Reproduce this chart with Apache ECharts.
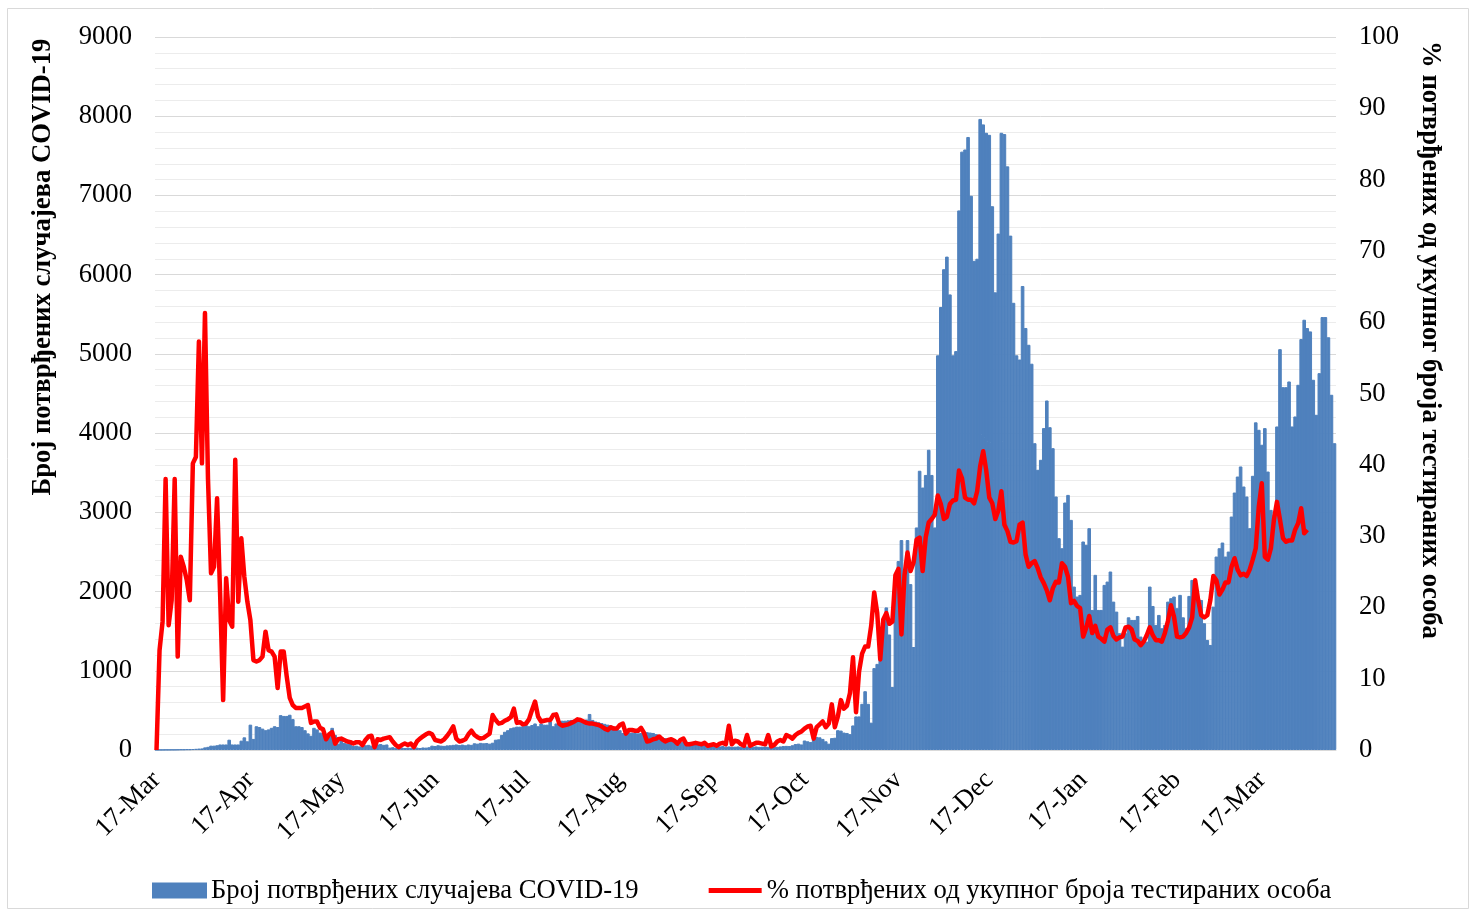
<!DOCTYPE html>
<html>
<head>
<meta charset="utf-8">
<script src="https://cdn.jsdelivr.net/npm/echarts@6/dist/echarts.min.js"></script>
<style>
  html, body { margin: 0; padding: 0; background: #fff; }
  #chart { width: 1476px; height: 917px; }
</style>
</head>
<body>
<div id="chart"></div>
<script>
// први дан серије, сваки следећи стубић је један дан
const startDate = '2020-03-17';

// дневни број потврђених случајева (процењено са слике)
const cases = [
  2, 3, 3, 4, 4, 5, 5, 6, 8, 8,
  10, 10, 12, 15, 18, 20, 33,
  40, 55, 55, 60, 70, 70, 70, 130, 70, 70, 70, 118, 160, 110,
  320, 140, 300, 290, 270, 250, 260, 280, 300, 290,
  440, 430, 430, 445, 390, 300, 300, 290, 250, 210,
  180, 280, 260, 220, 200, 170, 200, 280, 190, 80,
  120, 90, 80, 100, 50, 55, 45, 50, 60, 65,
  55, 60, 70, 75, 65, 70, 30, 35, 28, 30,
  32, 25, 30, 28, 35, 30, 25, 32, 30, 35,
  55, 50, 60, 55, 52, 58, 60, 65, 70, 62,
  68, 60, 70, 65, 85, 80, 90, 85, 88, 80, 92,
  130, 135, 190, 230, 250, 275, 285, 295, 295, 300, 315, 300, 315,
  335, 300, 335, 320, 320, 360, 300, 335, 365, 370, 370, 375, 380, 385, 380, 375, 380, 385,
  455, 380, 360, 350, 340, 330, 320, 310, 295, 280, 250, 215,
  230, 220, 220, 215, 210, 215, 220, 225, 220, 215, 200, 180, 160, 150, 150,
  140, 130, 110, 100, 100, 95, 85, 80, 78, 76, 70, 60,
  50, 52, 48, 50, 45, 50, 42, 45, 40, 42, 45, 40, 42, 44, 40, 42, 45, 40,
  42, 44, 40, 45, 42, 40, 45, 50, 52, 50, 60, 75, 80,
  70, 120, 110, 100, 160, 165, 160, 140, 110, 80, 150, 155, 250, 245, 220, 215,
  200, 310, 424, 424, 583, 742, 583, 345, 1034, 1087, 1484, 1560, 1800, 1458, 795,
  2147, 2385, 2650, 2094, 2650, 2094, 1300, 2809, 3525, 3313, 3472, 3790, 3472, 2809,
  4982, 5592, 6069, 6228, 5751, 4982, 5035, 6811, 7553, 7580, 7738, 6996, 6175, 6201,
  7966, 7897, 7791, 7765, 6864, 5777, 6519, 7791, 7775, 7367, 6493, 5645, 4982, 4929, 5857, 5327, 5115,
  4876, 3873, 3537, 3663, 4063, 4412, 4075, 3810, 3200, 2674, 2547, 3124, 3220, 2905,
  2063, 1937, 1958, 2632, 2590, 2800, 1768, 2211, 1768, 1768, 2084, 2126, 2253, 1873,
  1747, 1474, 1305, 1474, 1675, 1642, 1642, 1692, 1432, 1347, 1368, 2063, 1818, 1579,
  1705, 1537, 1579, 1873, 1916, 1937, 1790, 1958, 1675, 1537, 1945, 2147, 1979, 1910,
  1894, 1600, 1389, 1326, 1810, 2442, 2547, 2619, 2442, 2505, 2947, 3250, 3452, 3579,
  3326, 3200, 2800, 3461, 4136, 4042, 3853, 4063, 3515, 3031, 2968, 4084, 5060, 4580,
  4580, 4652, 4084, 4210, 4610, 5187, 5431, 5326, 5284, 4673, 4231, 4757, 5465, 5465, 5210, 4484, 3873
];

// % позитивних од тестираних, по дану (линија се завршава раније)
const positivity = [
  0, 14, 18, 38, 17.5, 21, 38, 13.1, 27.1, 25.7, 23.8,
  21, 40.2, 41.1, 57.3, 40.2, 61.3, 38, 24.8, 25.7, 35.3, 22, 7, 24.1, 18.2, 17.3, 40.7, 20.8, 29.7, 24.3, 20.8,
  18.2, 12.6, 12.4, 12.6, 13.1, 16.6, 14.0, 13.8, 13.1, 8.7, 13.8, 13.8, 10.3, 7.3, 6.3,
  5.9, 5.9, 5.9, 6.1, 6.3, 3.8, 4.0, 4.0, 3.1, 2.9, 1.5, 2.2, 2.5, 0.9, 1.5,
  1.6, 1.4, 1.2, 1.1, 0.9, 1.1, 1.1, 0.7, 1.4, 1.9, 2.0, 0.4, 1.5, 1.4, 1.6,
  1.7, 1.8, 1.2, 0.7, 0.4, 0.7, 0.9, 0.7, 0.9, 0.4, 1.2, 1.6, 1.9, 2.2, 2.4,
  2.2, 1.4, 1.3, 1.2, 1.5, 2.0, 2.6, 3.3, 1.6, 1.2, 1.3, 1.5, 2.2, 2.7, 2.1,
  1.8, 1.6, 1.7, 2.0, 2.3, 4.9, 4.2, 3.7, 3.8, 4.1, 4.3, 4.6, 5.8, 3.8, 3.9,
  3.6, 3.7, 4.3, 5.6, 6.8, 4.7, 4.0, 4.1, 4.2, 4.2, 4.9, 5.0, 3.7, 3.4, 3.5,
  3.6, 3.8, 4.0, 4.3, 4.2, 4.0, 3.8, 3.7, 3.7, 3.6, 3.5, 3.3, 3.0, 2.8, 3.2,
  3.0, 3.0, 3.5, 3.7, 2.3, 2.8, 2.8, 2.7, 2.7, 3.1,
  2.4, 1.2, 1.3, 1.5, 1.6, 1.9, 1.5, 1.2, 1.4, 1.5, 1.3, 0.9, 1.4, 1.6, 0.8,
  0.8, 0.9, 1.0, 0.9, 0.8, 1.0, 0.6, 0.7, 0.8, 0.6, 0.9, 1.0, 0.8, 3.4, 0.8,
  1.3, 1.2, 0.8, 0.6, 2.1, 0.6, 0.8, 1.0, 1.0, 0.9, 0.8, 2.1, 0.5, 0.7, 1.2,
  1.4, 1.2, 2.1, 1.9, 1.6, 2.1, 2.4, 2.6, 3.0, 3.3, 3.4, 1.6, 3.2, 3.6, 4.0,
  3.2, 3.7, 6.4, 3.2, 4.7, 7.0, 5.8, 6.2, 8, 13, 5.3, 11, 13.5, 14.5, 14.5,
  17.4, 22.1, 19.2, 12.7, 18.3, 19.2, 17.7, 18.0, 24.5, 25.4, 16.2, 24.5, 27.7, 25.1, 26.3,
  29.5, 29.8, 25.1, 29.8, 31.9, 32.4, 33.0, 35.7, 34.5, 32.4, 32.7, 34.5, 35.0, 35.1, 39.2,
  38.1, 35.4, 35.1, 35.1, 34.6, 36.3, 39.8, 41.9, 39.2, 35.4, 34.6, 32.4, 33.6, 36.3, 31.6,
  30.7, 29.2, 29.1, 29.3, 31.6, 31.9, 27.4, 25.7, 26.2, 26.5, 25.5, 24.2, 23.4, 22.4, 21.0,
  22.7, 23.6, 23.5, 26.2, 25.7, 24.3, 20.6, 20.9, 20.2, 19.9, 15.9, 17.1, 18.8, 16.4, 17.4,
  15.9, 15.6, 15.2, 16.9, 17.2, 16.0, 15.5, 15.8, 15.9, 17.2, 17.3, 16.9, 15.5, 15.3, 14.7,
  15.2, 16.1, 17.2, 16.1, 15.4, 15.4, 15.2, 16.4, 18.1, 20.3, 18.7, 15.9, 15.8, 15.9, 16.4,
  17.2, 18.6, 23.8, 21.0, 18.9, 18.6, 18.9, 21.0, 24.4, 23.8, 21.8, 22.5, 23.5, 23.5, 25.7,
  26.9, 25.3, 24.5, 24.7, 24.4, 25.3, 26.7, 28.3, 34.1, 37.4, 27.1, 26.7, 28.3, 32.3, 34.8,
  32.3, 29.7, 29.2, 29.4, 29.4, 30.9, 31.8, 33.9, 30.4, 30.9
];

// ознаке на x оси (сваки 17. у месецу)
const tickLabels = ['17-Mar', '17-Apr', '17-May', '17-Jun', '17-Jul', '17-Aug', '17-Sep',
  '17-Oct', '17-Nov', '17-Dec', '17-Jan', '17-Feb', '17-Mar'];

const seriesNames = ['Број потврђених случајева COVID-19', '% потврђених од укупног броја тестираних особа'];

const MONTHS = ['Jan', 'Feb', 'Mar', 'Apr', 'May', 'Jun', 'Jul', 'Aug', 'Sep', 'Oct', 'Nov', 'Dec'];

// категорије: узастопни датуми од startDate
const categories = [];
const dayLabel = [];
{
  const d0 = new Date(startDate + 'T00:00:00Z');
  for (let i = 0; i < cases.length; i++) {
    const d = new Date(d0.getTime() + i * 86400000);
    categories.push(d.toISOString().slice(0, 10));
    dayLabel.push(d.getUTCDate() + '-' + MONTHS[d.getUTCMonth()]);
  }
}
// индекси категорија које добијају ознаку
const tickIndex = new Set();
{
  let k = 0;
  for (let i = 0; i < dayLabel.length && k < tickLabels.length; i++) {
    if (dayLabel[i] === tickLabels[k]) { tickIndex.add(i); k++; }
  }
}

const FONT = '"Liberation Serif", "Times New Roman", serif';
const FS = 26.67; // 20pt

const chart = echarts.init(document.getElementById('chart'));

const option = {
  backgroundColor: '#ffffff',
  animation: false,
  textStyle: { fontFamily: FONT, color: '#000' },
  grid: { left: 155, right: 140, top: 37, bottom: 167, containLabel: false },
  legend: {
    left: 147,
    top: 872,
    itemWidth: 53,
    itemHeight: 14,
    itemGap: 70,
    symbolKeepAspect: true,
    textStyle: { fontFamily: FONT, fontSize: FS, color: '#000' },
    data: [
      { name: seriesNames[0], icon: 'rect' },
      { name: seriesNames[1], icon: 'path://M0,0H54V5H0Z' }
    ]
  },
  xAxis: {
    type: 'category',
    data: categories,
    boundaryGap: true,
    axisLine: { show: true, lineStyle: { color: '#d9d9d9', width: 1 } },
    axisTick: { show: false },
    axisLabel: {
      interval: (index) => tickIndex.has(index),
      formatter: (value, index) => dayLabel[index],
      rotate: 45,
      margin: 26,
      fontSize: FS,
      fontFamily: FONT,
      color: '#000'
    },
    splitLine: { show: false }
  },
  yAxis: [
    {
      type: 'value',
      min: 0,
      max: 9000,
      interval: 1000,
      axisLine: { show: false },
      axisTick: { show: false },
      axisLabel: { fontSize: FS, fontFamily: FONT, color: '#000', margin: 23, formatter: (v) => String(v) },
      splitLine: { show: true, lineStyle: { color: '#d9d9d9', width: 1 } },
      minorTick: { show: false, splitNumber: 5 },
      minorSplitLine: { show: true, lineStyle: { color: '#ececec', width: 1 } }
    },
    {
      type: 'value',
      min: 0,
      max: 100,
      interval: 10,
      axisLine: { show: false },
      axisTick: { show: false },
      axisLabel: { fontSize: FS, fontFamily: FONT, color: '#000', margin: 23, formatter: (v) => String(v) },
      splitLine: { show: false }
    }
  ],
  series: [
    {
      name: seriesNames[0],
      type: 'bar',
      data: cases,
      yAxisIndex: 0,
      // стубићи мало шири од дана + ивица исте боје, да се споје без белих пукотина
      barWidth: 3.6,
      itemStyle: { color: '#4f81bd', borderColor: '#4f81bd', borderWidth: 1 }
    },
    {
      name: seriesNames[1],
      type: 'line',
      data: positivity,
      yAxisIndex: 1,
      symbol: 'none',
      smooth: false,
      lineStyle: { color: '#ff0000', width: 4.5, join: 'round' },
      itemStyle: { color: '#ff0000' }
    }
  ],
  graphic: [
    // оквир око целог графика
    {
      type: 'rect',
      shape: { x: 7.5, y: 8.5, width: 1461, height: 900 },
      style: { fill: 'none', stroke: '#d9d9d9', lineWidth: 1 },
      silent: true
    },
    {
      type: 'text',
      x: 43,
      y: 267,
      rotation: Math.PI / 2,
      style: {
        text: 'Број потврђених случајева COVID-19',
        font: 'bold ' + FS + 'px ' + FONT,
        fill: '#000',
        align: 'center',
        verticalAlign: 'middle'
      }
    },
    {
      type: 'text',
      x: 1430,
      y: 340,
      rotation: -Math.PI / 2,
      style: {
        text: '% потврђених од укупног броја тестираних особа',
        font: 'bold ' + FS + 'px ' + FONT,
        fill: '#000',
        align: 'center',
        verticalAlign: 'middle'
      }
    }
  ]
};

chart.setOption(option);
</script>
</body>
</html>
